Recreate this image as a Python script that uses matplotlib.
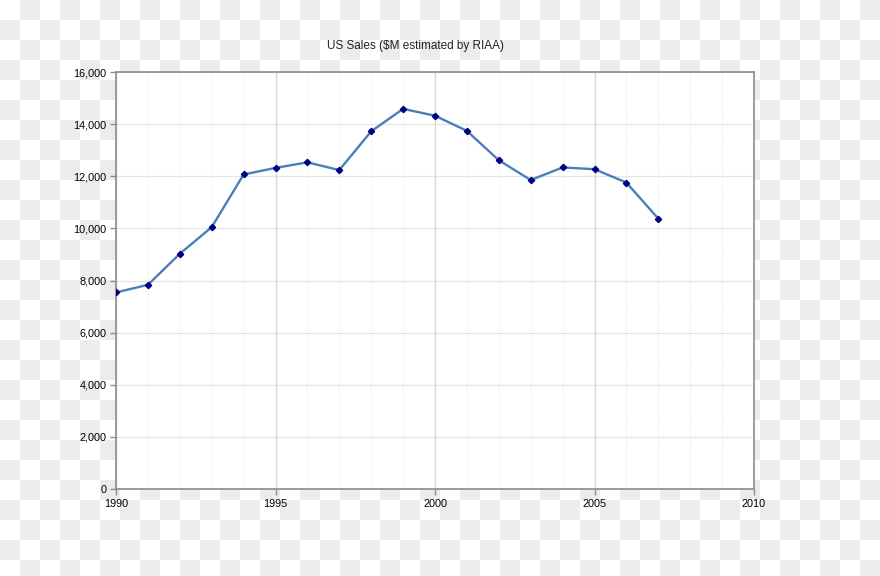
import numpy as np
import matplotlib
matplotlib.use("Agg")
import matplotlib.pyplot as plt
from matplotlib.ticker import MultipleLocator, FuncFormatter

plt.rcParams['font.family'] = ['Liberation Sans', 'DejaVu Sans']

# US sales, $M estimated by RIAA
years = [1990, 1991, 1992, 1993, 1994, 1995, 1996, 1997, 1998,
         1999, 2000, 2001, 2002, 2003, 2004, 2005, 2006, 2007]
sales = [7541, 7834, 9024, 10047, 12068, 12320, 12534, 12237, 13724,
         14585, 14323, 13741, 12614, 11854, 12338, 12270, 11758, 10372]
title = "US Sales ($M estimated by RIAA)"

fig = plt.figure(figsize=(8.8, 5.76), dpi=100)

# checkerboard backdrop (transparent-image look)
bg = fig.add_axes([0, 0, 1, 1], zorder=-1)
rows, cols = 29, 44
idx = np.add.outer(np.arange(rows), np.arange(cols)) % 2
bg.imshow(np.where(idx == 1, 0.922, 1.0), cmap='gray', vmin=0, vmax=1,
          extent=(0, cols * 20, rows * 20, 0), interpolation='nearest')
bg.set_xlim(0, 880)
bg.set_ylim(576, 0)
bg.axis('off')

ax = fig.add_axes([116 / 880, 1 - 489 / 576, 638 / 880, 417 / 576])
ax.set_facecolor('white')

ax.plot(years, sales, color='#4a7ebb', lw=1.7, zorder=3)
ax.plot(years, sales, ls='none', marker='D', ms=3.2, color='#000080', zorder=4)

ax.set_xlim(1990, 2010)
ax.set_ylim(0, 16000)
ax.xaxis.set_major_locator(MultipleLocator(5))
ax.xaxis.set_minor_locator(MultipleLocator(1))
ax.yaxis.set_major_locator(MultipleLocator(2000))
ax.yaxis.set_major_formatter(FuncFormatter(lambda v, p: f"{int(v):,}"))

ax.grid(which='major', axis='y', color='#d6d6d6', lw=0.9, ls=(0, (1, 0.6)))
ax.grid(which='major', axis='x', color='#d8d8d8', lw=1.0)
ax.grid(which='minor', axis='x', color='#e6e6e6', lw=0.7, ls=(0, (1, 1.5)))
ax.set_axisbelow(True)

for s in ax.spines.values():
    s.set_color('#8c8c8c')
    s.set_linewidth(1.2)

ax.tick_params(which='major', direction='out', length=4, width=1,
               color='#8c8c8c', labelsize=7.8, labelcolor='black', pad=3)
ax.tick_params(which='minor', length=0)

fig.text(415 / 880, 1 - 46 / 576, title, ha='center', va='center',
         fontsize=8.5, color='#222222')

fig.savefig('out.png', dpi=100)
